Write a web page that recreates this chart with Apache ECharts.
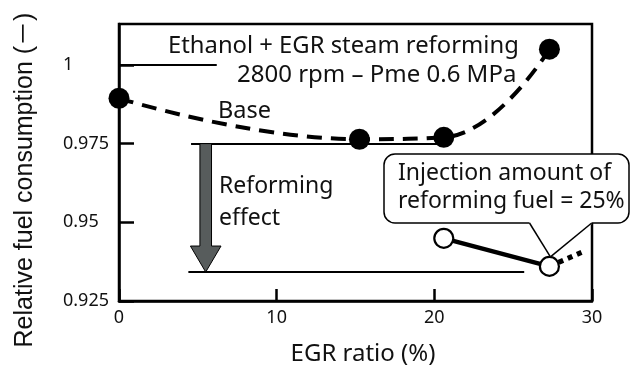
<!DOCTYPE html>
<html>
<head>
<meta charset="utf-8">
<script src="https://cdn.jsdelivr.net/npm/echarts@6/dist/echarts.min.js"></script>
<style>
html, body { margin: 0; padding: 0; background: #fff; }
#chart { width: 630px; height: 367px; }
</style>
</head>
<body>
<div id="chart"></div>
<script>
// Axis ticks
const egrTicks = [0, 10, 20, 30];
const fuelTicks = [0.925, 0.95, 0.975, 1];

// Base operation (filled markers, dashed curve)
const baseEgr = [0, 15.25, 20.6, 27.3];
const baseFuel = [0.9894, 0.9764, 0.9770, 1.005];

// With reformed fuel (open markers, solid line)
const reformEgr = [20.6, 27.3];
const reformFuel = [0.9449, 0.9360];

// Dotted continuation past the last reformed point
const trendEgr = [27.3, 29.45];
const trendFuel = [0.9360, 0.9407];

// Horizontal guide levels: fuel level, EGR start, EGR end
const guideFuel = [1, 0.975, 0.9342];
const guideStart = [0, 4.57, 4.4];
const guideEnd = [6.2, 20.6, 25.7];

// Reforming effect arrow: EGR position, from / to fuel level
const effectEgr = 5.5;
const effectFrom = 0.975;
const effectTo = 0.9342;

const zip = (xs, ys) => xs.map((x, i) => [x, ys[i]]);

const FONT = '"Noto Sans", "Noto Sans CJK JP", sans-serif';
const chart = echarts.init(document.getElementById('chart'), null, { renderer: 'canvas' });

const option = {
  animation: false,
  backgroundColor: '#fff',
  grid: {
    left: 119, right: 38, top: 24, bottom: 66,
    show: true, borderColor: '#000', borderWidth: 2.5, backgroundColor: 'transparent'
  },
  xAxis: {
    type: 'value', min: 0, max: 30, interval: 10,
    axisLine: { show: true, onZero: false, lineStyle: { color: '#000', width: 2.5 } },
    axisTick: { show: true, inside: true, length: 12, lineStyle: { color: '#000', width: 2.5 }, customValues: egrTicks },
    axisLabel: { color: '#111', fontSize: 18, fontFamily: FONT, margin: 8, customValues: egrTicks },
    splitLine: { show: false }
  },
  yAxis: {
    type: 'value', min: 0.925, max: 1.013,
    axisLine: { show: true, onZero: false, lineStyle: { color: '#000', width: 2.5 } },
    axisTick: { show: true, inside: true, length: 15, lineStyle: { color: '#000', width: 2.5 }, customValues: fuelTicks },
    axisLabel: { color: '#111', fontSize: 18, fontFamily: FONT, align: 'left', margin: 56, customValues: fuelTicks },
    splitLine: { show: false }
  },
  series: [
    {
      name: 'guides', type: 'line', data: [], silent: true,
      markLine: {
        silent: true, symbol: ['none', 'none'], animation: false,
        label: { show: false },
        lineStyle: { color: '#000', width: 2, type: 'solid' },
        data: guideFuel.map((f, i) => [{ coord: [guideStart[i], f] }, { coord: [guideEnd[i], f] }])
      }
    },
    {
      name: 'Base', type: 'line', smooth: 0.45, data: zip(baseEgr, baseFuel),
      symbol: 'circle', symbolSize: 21,
      itemStyle: { color: '#000' },
      lineStyle: { color: '#000', width: 4, type: [15, 9] },
      z: 3
    },
    {
      name: 'trend', type: 'line', data: zip(trendEgr, trendFuel),
      symbol: 'none',
      lineStyle: { color: '#000', width: 5, type: [5, 5] },
      z: 3
    },
    {
      name: 'Reforming', type: 'line', data: zip(reformEgr, reformFuel),
      symbol: 'circle', symbolSize: 19,
      itemStyle: { color: '#fff', borderColor: '#000', borderWidth: 2.2 },
      lineStyle: { color: '#000', width: 4.5 },
      z: 4
    }
  ]
};
chart.setOption(option);

const px = (x, y) => chart.convertToPixel({ xAxisIndex: 0, yAxisIndex: 0 }, [x, y]);

function text(str, x, y, size, family, align, rotation) {
  return {
    type: 'text', x: x, y: y, z: 100, rotation: rotation || 0,
    style: { text: str, fontSize: size, fontFamily: family || FONT, fill: '#111', textVerticalAlign: 'middle', textAlign: align || 'left' }
  };
}

// Reforming effect arrow
const aTop = px(effectEgr, effectFrom);
const aTip = px(effectEgr, effectTo);
const cx = aTop[0];
const shaftHalf = 5.8, headHalf = 15.3, headLen = 26;
const arrow = {
  type: 'polygon', z: 90,
  shape: { points: [
    [cx - shaftHalf, aTop[1]], [cx + shaftHalf, aTop[1]],
    [cx + shaftHalf, aTip[1] - headLen], [cx + headHalf, aTip[1] - headLen],
    [cx, aTip[1]],
    [cx - headHalf, aTip[1] - headLen], [cx - shaftHalf, aTip[1] - headLen]
  ] },
  style: { fill: '#575c5c', stroke: '#000', lineWidth: 1 }
};

// Callout for the reformed-fuel point
const target = px(reformEgr[1], reformFuel[1]);
const tip = [target[0] + 1, target[1] - 9.5];
const box = { x: 384, y: 154, w: 245, h: 69 };
const wedgeL = 529.5, wedgeR = 591.7;
const bottom = box.y + box.h;
const callout = [
  { type: 'rect', z: 95, shape: { x: box.x, y: box.y, width: box.w, height: box.h, r: 11 },
    style: { fill: '#fff', stroke: '#000', lineWidth: 1.5 } },
  { type: 'polygon', z: 96, shape: { points: [[wedgeL, bottom - 1.5], [wedgeR, bottom - 1.5], [wedgeR, bottom + 1], tip, [wedgeL, bottom + 1]] },
    style: { fill: '#fff', stroke: null } },
  { type: 'line', z: 97, shape: { x1: wedgeL, y1: bottom, x2: tip[0], y2: tip[1] }, style: { stroke: '#000', lineWidth: 1.5 } },
  { type: 'line', z: 97, shape: { x1: wedgeR, y1: bottom, x2: tip[0], y2: tip[1] }, style: { stroke: '#000', lineWidth: 1.5 } },
  text('Injection amount of', 398, 173.5, 23),
  text('reforming fuel = 25%', 398, 201, 23)
];

chart.setOption({
  graphic: { elements: [
    text('Ethanol + EGR steam reforming', 168, 46, 23.8),
    text('2800 rpm \u2013 Pme 0.6 MPa', 237, 75, 24),
    text('Base', 218, 111, 23.5),
    text('Reforming', 219, 186, 23),
    text('effect', 219, 218, 23),
    arrow
  ].concat(callout).concat([
    text('EGR ratio (%)', 363, 354, 24, FONT, 'center'),
    text('Relative fuel consumption (\uFF0D)', 25, 180, 25, '"Liberation Sans", Arial, "Noto Sans CJK JP", sans-serif', 'center', Math.PI / 2)
  ]) }
});
</script>
</body>
</html>
